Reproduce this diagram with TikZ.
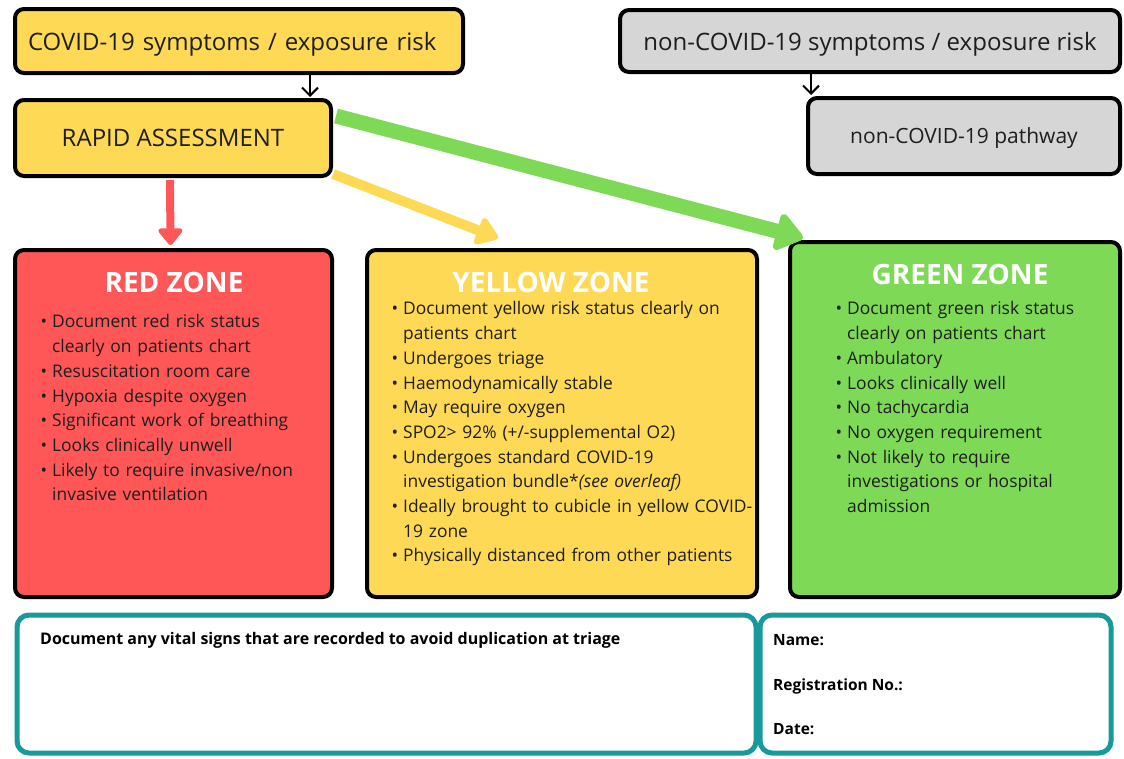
\documentclass[tikz,border=0pt]{standalone}
\usepackage{fontspec}
\setmainfont{Open Sans}
\usetikzlibrary{arrows.meta,calc}

\definecolor{zred}{HTML}{FF5757}
\definecolor{zyellow}{HTML}{FED955}
\definecolor{zgreen}{HTML}{7ED957}
\definecolor{zgray}{HTML}{D6D6D6}
\definecolor{zteal}{HTML}{189A9A}
\definecolor{ink}{HTML}{1E1E1E}

% bullet list used inside the zone panels; #1 = indent of the text
\newenvironment{zonelist}[1]{%
  \begin{list}{\textbullet}{%
    \setlength\leftmargin{#1}%
    \setlength\labelsep{5pt}%
    \setlength\labelwidth{\dimexpr#1-5pt\relax}%
    \setlength\itemsep{0pt}\setlength\parsep{0pt}%
    \setlength\topsep{0pt}\setlength\partopsep{0pt}}}%
  {\end{list}}

\tikzset{
  flowbox/.style={draw=black, line width=4pt, rounded corners=9pt, inner sep=0pt,
    text depth=0pt, text=ink, font=\fontsize{24}{28}\selectfont},
  zonebox/.style={draw=black, line width=4pt, rounded corners=9pt, inner sep=0pt},
  zonetitle/.style={text=white, inner sep=0pt, font=\bfseries\fontsize{28}{32}\selectfont},
  zonetext/.style={anchor=north west, inner sep=0pt, text width=380pt, align=left,
    text=ink, font=\fontsize{17.4}{24.7}\selectfont},
  notebox/.style={draw=zteal, line width=5pt, rounded corners=12pt, inner sep=0pt},
  notetext/.style={anchor=west, inner sep=0pt, text=black, font=\bfseries\fontsize{15.5}{18}\selectfont},
  thinarrow/.style={draw=black, line width=2pt, -{Straight Barb[length=8pt,width=16pt]}},
}

\begin{document}
\begin{tikzpicture}[x=1pt,y=-1pt]
\useasboundingbox (0,0) rectangle (1124,758);

% entry boxes
\node[flowbox, fill=zyellow, minimum width=448pt, minimum height=64pt,
      text width=422pt, align=left] (covid) at (239,41)
  {COVID-19 symptoms / exposure risk};
\node[flowbox, fill=zyellow, minimum width=316pt, minimum height=76pt] (rapid) at (173,138)
  {RAPID ASSESSMENT};
\node[flowbox, fill=zgray, minimum width=500pt, minimum height=62pt] (noncovid) at (870,41)
  {non-COVID-19 symptoms / exposure risk};
\node[flowbox, fill=zgray, minimum width=312pt, minimum height=76pt,
      font=\fontsize{21}{25}\selectfont] (pathway) at (964,136)
  {non-COVID-19 pathway};

% zone panels
\node[zonebox, fill=zred, minimum width=317pt, minimum height=347pt] (red) at (173.5,423.5) {};
\node[zonebox, fill=zyellow, minimum width=390pt, minimum height=347pt] (yellow) at (562,423.5) {};
\node[zonebox, fill=zgreen, minimum width=330pt, minimum height=355pt] (green) at (955,419.5) {};

\node[zonetitle] (redt) at (174,282) {RED ZONE};
\node[zonetitle] (yellowt) at (551,282) {YELLOW ZONE};
\node[zonetitle] (greent) at (960,274) {GREEN ZONE};

\node[zonetext] (redl) at (37,303) {%
  \begin{zonelist}{15pt}
  \item Document red risk status\newline clearly on patients chart
  \item Resuscitation room care
  \item Hypoxia despite oxygen
  \item Significant work of breathing
  \item Looks clinically unwell
  \item Likely to require invasive/non\newline invasive ventilation
  \end{zonelist}};

\node[zonetext] (yellowl) at (388,290) {%
  \begin{zonelist}{15pt}
  \item Document yellow risk status clearly on\newline patients chart
  \item Undergoes triage
  \item Haemodynamically stable
  \item May require oxygen
  \item SPO2> 92\% (+/-supplemental O2)
  \item Undergoes standard COVID-19\newline investigation bundle*\textit{(see overleaf)}
  \item Ideally brought to cubicle in yellow COVID-\newline 19 zone
  \item Physically distanced from other patients
  \end{zonelist}};

\node[zonetext] (greenl) at (834,290) {%
  \begin{zonelist}{13pt}
  \item Document green risk status\newline clearly on patients chart
  \item Ambulatory
  \item Looks clinically well
  \item No tachycardia
  \item No oxygen requirement
  \item Not likely to require\newline investigations or hospital\newline admission
  \end{zonelist}};

% record boxes
\node[notebox, minimum width=739pt, minimum height=138pt] (vitals) at (386.5,684) {};
\node[notebox, minimum width=351pt, minimum height=138pt] (patient) at (935.5,684) {};
\node[notetext, font=\bfseries\fontsize{16}{19}\selectfont] (vitalst) at (40,640)
  {Document any vital signs that are recorded to avoid duplication at triage};
\node[notetext] (namet) at (773,640) {Name:};
\node[notetext] (regt) at (773,686) {Registration No.:};
\node[notetext] (datet) at (773,729) {Date:};

% connectors
\draw[thinarrow] ($(rapid.north east)+(-23,-27)$) coordinate (c1) -- ($(rapid.north east)+(-23,-1)$);
\draw[thinarrow] ($(pathway.north west)+(5,-25)$) coordinate (c2) -- ($(pathway.north west)+(5,-1)$);

\draw[draw=zred, line width=8pt, -{Triangle[length=18pt,width=28pt,round]}]
  ($(rapid.south)+(-3,2)$) -- ($(red.north)+(-3,-3)$);
\draw[draw=zyellow, line width=10pt, -{Triangle[length=24pt,width=32pt,round]}]
  ($(rapid.south east)+(0,-4)$) -- ($(yellow.north west)+(133,-10)$);
\draw[draw=zgreen, line width=15pt, -{Triangle[length=30pt,width=42pt,round]}]
  ($(rapid.north east)+(3,18)$) -- ($(green.north west)+(15,-2)$);
\end{tikzpicture}
\end{document}
